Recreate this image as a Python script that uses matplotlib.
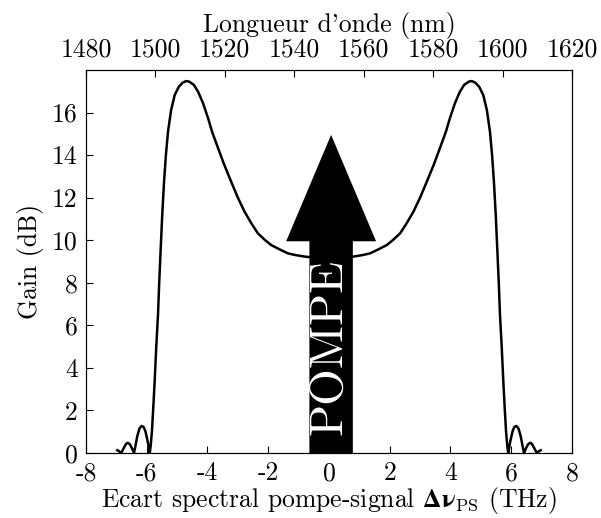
import numpy as np
import matplotlib
matplotlib.use('Agg')
import matplotlib.pyplot as plt

# Data (positive half, curve is symmetric about 0)
# detuning in THz, gain in dB
DNU_POS = [0.0, 0.4, 0.8, 1.1, 1.35, 1.6, 1.9, 2.1, 2.34, 2.55, 2.78, 3.0,
           3.22, 3.45, 3.65, 3.85, 3.98, 4.15, 4.31, 4.45, 4.6, 4.70, 4.82,
           4.95, 5.08, 5.2, 5.30, 5.37, 5.43, 5.49, 5.54, 5.59, 5.63, 5.69,
           5.74, 5.79, 5.83, 5.87, 5.90, 5.97, 6.04, 6.10, 6.17, 6.24, 6.31,
           6.37, 6.42, 6.48, 6.55, 6.62, 6.68, 6.75, 6.84, 6.91, 6.97]
GAIN_POS = [9.15, 9.17, 9.23, 9.30, 9.38, 9.55, 9.77, 10.0, 10.32, 10.78,
            11.34, 12.0, 12.75, 13.55, 14.32, 15.1, 15.73, 16.45, 16.98,
            17.3, 17.45, 17.48, 17.4, 17.2, 16.82, 16.1, 15.1, 14.0, 12.75,
            11.2, 9.62, 8.0, 6.49, 4.9, 3.35, 2.0, 1.0, 0.35, 0.0, 0.55, 1.0,
            1.22, 1.27, 1.15, 0.8, 0.35, 0.0, 0.2, 0.4, 0.48, 0.43, 0.25, 0.0,
            0.08, 0.13]

X_TICKS = [-8, -6, -4, -2, 0, 2, 4, 6, 8]
Y_TICKS = [0, 2, 4, 6, 8, 10, 12, 14, 16]
WL_TICKS = [1480, 1500, 1520, 1540, 1560, 1580, 1600, 1620]

# pump arrow (data units)
ARROW_X = 0.07
ARROW_TOP = 14.95
ARROW_BODY = 1.43
ARROW_HEAD_W = 2.96
ARROW_HEAD_L = 5.0

plt.rcParams['font.family'] = 'cmr10'
plt.rcParams['mathtext.fontset'] = 'custom'
plt.rcParams['mathtext.rm'] = 'cmr10'
plt.rcParams['mathtext.it'] = 'cmmi10'
plt.rcParams['mathtext.bf'] = 'STIXGeneral:bold'
plt.rcParams['axes.formatter.use_mathtext'] = True
FS = 18.5

dnu = np.concatenate([-np.array(DNU_POS[::-1]), np.array(DNU_POS[1:])])
gain = np.concatenate([np.array(GAIN_POS[::-1]), np.array(GAIN_POS[1:])])

fig = plt.figure(figsize=(6.01, 5.18), dpi=100)
ax = fig.add_axes([0.1431, 0.1255, 0.8086, 0.7394])

ax.plot(dnu, gain, color='black', lw=1.8, zorder=2)
ax.arrow(ARROW_X, 0, 0, ARROW_TOP, width=ARROW_BODY, head_width=ARROW_HEAD_W,
         head_length=ARROW_HEAD_L, length_includes_head=True,
         fc='black', ec='none', zorder=3)
ax.text(0.0, 5.0, 'POMPE', rotation=90, color='white', ha='center',
        va='center', fontsize=34, zorder=4)

ax.set_xlim(-8, 8)
ax.set_ylim(0, 18)
ax.set_xticks(X_TICKS)
ax.set_xticklabels([str(t) for t in X_TICKS])
ax.set_yticks(Y_TICKS)
ax.set_yticklabels([str(t) for t in Y_TICKS])
ax.tick_params(direction='in', length=5, width=0.8, labelsize=FS,
               top=False, right=False, pad=6)
ax.set_xlabel(r'Ecart spectral pompe-signal $\mathbf{\Delta\nu}_{\mathrm{PS}}$ (THz)',
              fontsize=FS, labelpad=0)
ax.set_ylabel('Gain (dB)', fontsize=FS, labelpad=6)

top = ax.twiny()
top.set_xlim(1480, 1620)
top.set_xticks(WL_TICKS)
top.set_xticklabels([str(t) for t in WL_TICKS])
top.tick_params(direction='in', length=5, width=0.8, labelsize=FS, pad=6)
top.set_xlabel("Longueur d'onde (nm)", fontsize=FS, labelpad=4)

for a in (ax, top):
    for s in a.spines.values():
        s.set_linewidth(0.8)

fig.savefig('out.png', dpi=100)
